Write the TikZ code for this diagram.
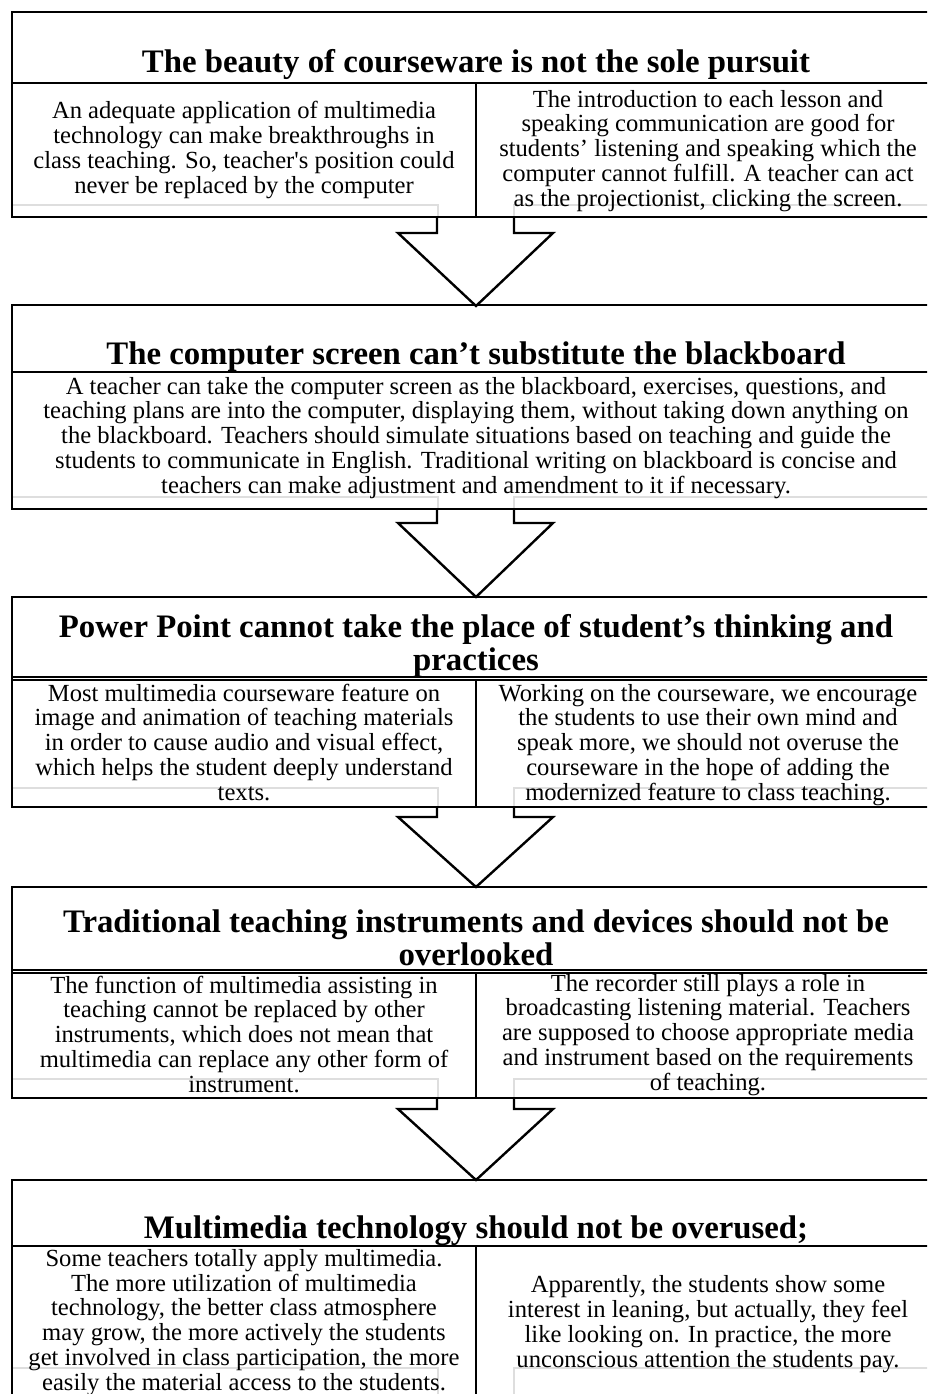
\documentclass[tikz,border=0pt]{standalone}
\usepackage{fontspec}
\setmainfont{Liberation Serif}
\usepackage{tikz}

\begin{document}
\begin{tikzpicture}[x=1pt, y=-1pt,
    cadre/.style={draw=black, line width=2.6pt},
    filet/.style={draw=black, line width=2pt},
    ombre/.style={draw=black!13, line width=2.2pt},
    fleche/.style={draw=black, fill=white, line width=2.4pt, line join=miter},
    titre/.style={font=\fontsize{32.8}{33}\selectfont\bfseries, align=center, anchor=base, inner sep=0pt},
    corps/.style={font=\fontsize{24.6}{24.7}\selectfont, align=center, anchor=base, inner sep=0pt}]
    \useasboundingbox (0,0) rectangle (927,1394);
    \clip (0,0) rectangle (927,1394);
    \fill[white] (0,0) rectangle (927,1394);

    % Fleches entre les blocs
    \filldraw[fleche] (437,217) -- (437,233) -- (398,233) -- (476,306) -- (553,233) -- (514,233) -- (514,217);
    \filldraw[fleche] (437,509) -- (437,523) -- (398,523) -- (476,597) -- (553,523) -- (514,523) -- (514,509);
    \filldraw[fleche] (437,807) -- (437,817) -- (398,817) -- (476,887) -- (553,817) -- (514,817) -- (514,807);
    \filldraw[fleche] (437,1098) -- (437,1109) -- (398,1109) -- (476,1180) -- (553,1109) -- (514,1109) -- (514,1098);

    % Traits gris pales (le node est place sur la ligne de base de la derniere ligne)
    \foreach \g/\b in {205/217, 497/509, 788/807, 1079/1098, 1368/1398}
        \draw[ombre] (13,\g) -- (438,\g) -- (438,\b) (514,\b) -- (514,\g) -- (940,\g);

    % Bloc 1
    \draw[cadre] (12,12) rectangle (940,217);
    \draw[filet] (12,83) -- (940,83);
    \draw[cadre] (476,84) -- (476,217);
    \node[titre] (head1) at (476,73) {The beauty of courseware is not the sole pursuit};
    \node[corps] (left1) at (244,193) {An adequate application of multimedia\\technology can make breakthroughs in\\class teaching. So, teacher\textquotesingle s position could\\never be replaced by the computer};
    \node[corps] (right1) at (708,206) {The introduction to each lesson and\\speaking communication are good for\\students’ listening and speaking which the\\computer cannot fulfill. A teacher can act\\as the projectionist, clicking the screen.};

    % Bloc 2
    \draw[cadre] (12,305) rectangle (940,509);
    \draw[filet] (12,372) -- (940,372);
    \node[titre] (head2) at (476,364) {The computer screen can’t substitute the blackboard};
    \node[corps] (body2) at (476,493) {A teacher can take the computer screen as the blackboard, exercises, questions, and\\teaching plans are into the computer, displaying them, without taking down anything on\\the blackboard. Teachers should simulate situations based on teaching and guide the\\students to communicate in English. Traditional writing on blackboard is concise and\\teachers can make adjustment and amendment to it if necessary.};

    % Bloc 3
    \draw[cadre] (12,597) rectangle (940,807);
    \draw[filet] (12,677) -- (940,677);
    \draw[filet] (12,680) -- (940,680);
    \draw[cadre] (476,680) -- (476,807);
    \node[titre] (head3) at (476,670) {Power Point cannot take the place of student’s thinking and\\practices};
    \node[corps] (left3) at (244,800) {Most multimedia courseware feature on\\image and animation of teaching materials\\in order to cause audio and visual effect,\\which helps the student deeply understand\\texts.};
    \node[corps] (right3) at (708,800) {Working on the courseware, we encourage\\the students to use their own mind and\\speak more, we should not overuse the\\courseware in the hope of adding the\\modernized feature to class teaching.};

    % Bloc 4
    \draw[cadre] (12,887) rectangle (940,1098);
    \draw[filet] (12,970) -- (940,970);
    \draw[filet] (12,973) -- (940,973);
    \draw[cadre] (476,973) -- (476,1098);
    \node[titre] (head4) at (476,965) {Traditional teaching instruments and devices should not be\\overlooked};
    \node[corps] (left4) at (244,1092) {The function of multimedia assisting in\\teaching cannot be replaced by other\\instruments, which does not mean that\\multimedia can replace any other form of\\instrument.};
    \node[corps] (right4) at (708,1090) {The recorder still plays a role in\\broadcasting listening material. Teachers\\are supposed to choose appropriate media\\and instrument based on the requirements\\of teaching.};

    % Bloc 5
    \draw[cadre] (12,1180) rectangle (940,1398);
    \draw[filet] (12,1246) -- (940,1246);
    \draw[cadre] (476,1246) -- (476,1398);
    \node[titre] (head5) at (476,1238) {Multimedia technology should not be overused;};
    \node[corps] (left5) at (244,1390) {Some teachers totally apply multimedia.\\The more utilization of multimedia\\technology, the better class atmosphere\\may grow, the more actively the students\\get involved in class participation, the more\\easily the material access to the students.};
    \node[corps] (right5) at (708,1367) {Apparently, the students show some\\interest in leaning, but actually, they feel\\like looking on. In practice, the more\\unconscious attention the students pay.};
\end{tikzpicture}
\end{document}
